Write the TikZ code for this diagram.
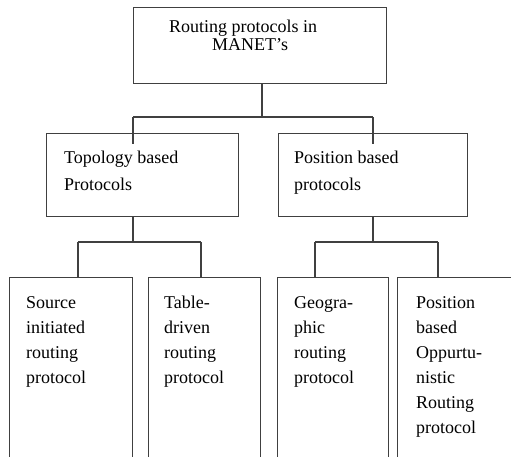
\documentclass[tikz,border=0pt]{standalone}
\usepackage{fontspec}
\setmainfont{Liberation Serif}
\begin{document}
\begin{tikzpicture}[x=1pt,y=-1pt,
 box/.style={draw=black!75, line width=1.2pt, rectangle, inner sep=0pt, anchor=north west},
 lbl/.style={anchor=base west, inner sep=0pt, font=\fontsize{18}{25}\selectfont, text=black},
 conn/.style={draw=black!75, line width=1.2pt}]
\clip (0,0) rectangle (511,456);
% boxes
\node[box, minimum width=253pt, minimum height=76pt] (top) at (133,7) {};
\node[box, minimum width=192pt, minimum height=83pt] (ml) at (46,133) {};
\node[box, minimum width=189pt, minimum height=83pt] (mr) at (278,133) {};
\node[box, minimum width=123pt, minimum height=220pt] (b1) at (9,277) {};
\node[box, minimum width=112pt, minimum height=220pt] (b2) at (148,277) {};
\node[box, minimum width=111pt, minimum height=220pt] (b3) at (277,277) {};
\node[box, minimum width=150pt, minimum height=220pt] (b4) at (397,277) {};
% texts
\node[lbl] (t0a) at (169,32) {Routing protocols in};
\node[lbl] (t0b) at (212,50) {MANET’s};
\node[lbl] (tla) at (64,163) {Topology based};
\node[lbl] (tlb) at (64,190) {Protocols};
\node[lbl] (tra) at (294,163) {Position based};
\node[lbl] (trb) at (294,190) {protocols};
\node[lbl] (s1) at (26,308) {Source};
\node[lbl] (s2) at (26,333) {initiated};
\node[lbl] (s3) at (26,358) {routing};
\node[lbl] (s4) at (26,383) {protocol};
\node[lbl] (d1) at (164,308) {Table-};
\node[lbl] (d2) at (164,333) {driven};
\node[lbl] (d3) at (164,358) {routing};
\node[lbl] (d4) at (164,383) {protocol};
\node[lbl] (g1) at (294,308) {Geogra-};
\node[lbl] (g2) at (294,333) {phic};
\node[lbl] (g3) at (294,358) {routing};
\node[lbl] (g4) at (294,383) {protocol};
\node[lbl] (p1) at (416,308) {Position};
\node[lbl] (p2) at (416,333) {based};
\node[lbl] (p3) at (416,358) {Oppurtu-};
\node[lbl] (p4) at (416,383) {nistic};
\node[lbl] (p5) at (416,408) {Routing};
\node[lbl] (p6) at (416,433) {protocol};
% connectors
\coordinate (j0) at (262,117);
\coordinate (ja) at (133,117);
\coordinate (jb) at (373,117);
\draw[conn] (top.south -| j0) -- (j0);
\draw[conn] (ja) -- (jb);
\draw[conn] (ja) -- ([yshift=-11pt]ml.north -| ja);
\draw[conn] (jb) -- ([yshift=-11pt]mr.north -| jb);
\coordinate (jc) at (133,242);
\coordinate (jd) at (78,242);
\coordinate (je) at (201,242);
\draw[conn] (ml.south -| jc) -- (jc);
\draw[conn] (jd) -- (je);
\draw[conn] (jd) -- (b1.north -| jd);
\draw[conn] (je) -- (b2.north -| je);
\coordinate (jf) at (373,242);
\coordinate (jg) at (315,242);
\coordinate (jh) at (438,242);
\draw[conn] (mr.south -| jf) -- (jf);
\draw[conn] (jg) -- (jh);
\draw[conn] (jg) -- (b3.north -| jg);
\draw[conn] (jh) -- (b4.north -| jh);
\end{tikzpicture}
\end{document}
